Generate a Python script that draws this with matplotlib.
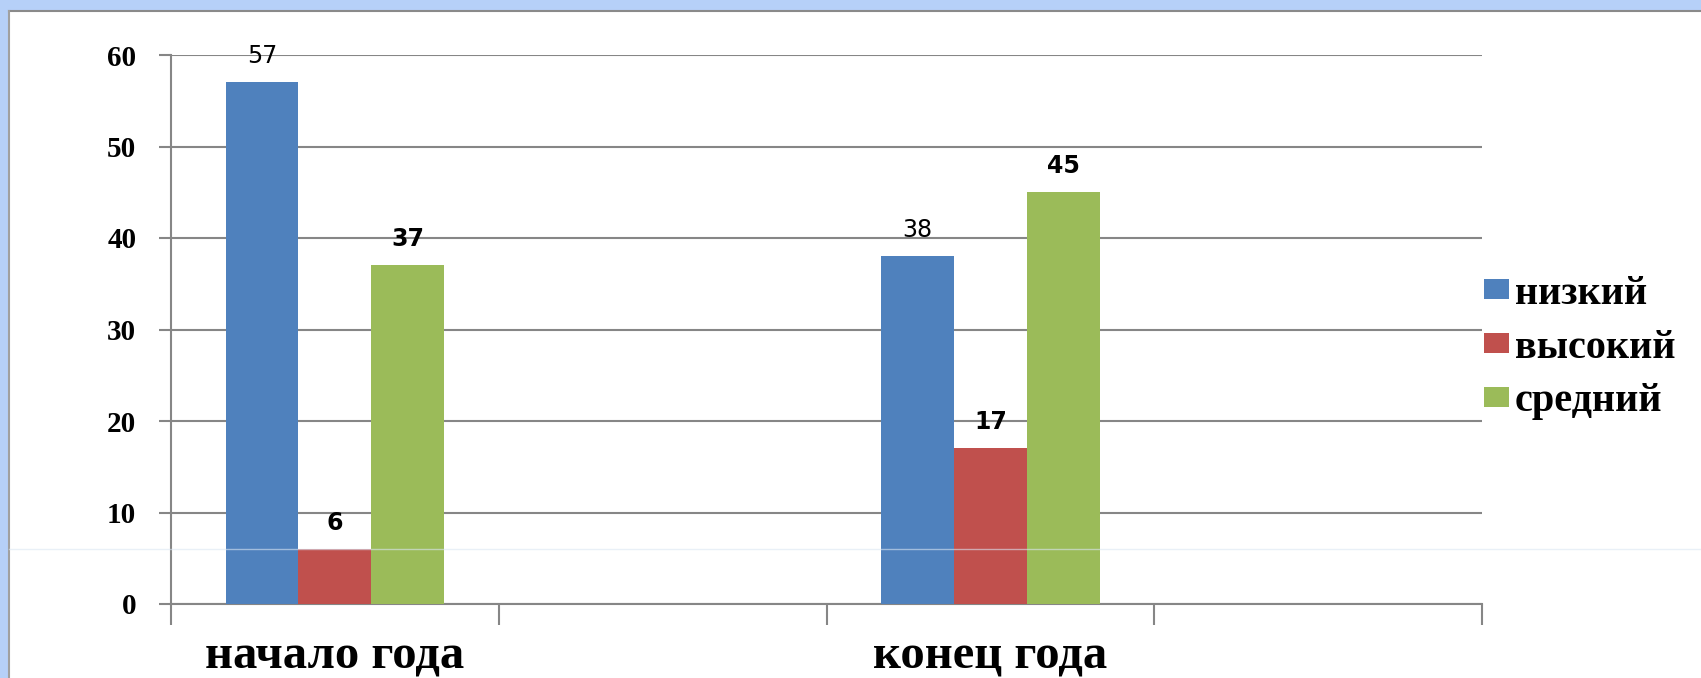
import numpy as np
import matplotlib

matplotlib.use("Agg")

import matplotlib.pyplot as plt
from matplotlib.patches import Patch, Rectangle
from matplotlib.lines import Line2D

# Данные диаграммы
categories = ["начало года", "", "конец года", ""]
series_names = ["низкий", "высокий", "средний"]
low_values = [57, np.nan, 38, np.nan]
high_values = [6, np.nan, 17, np.nan]
mid_values = [37, np.nan, 45, np.nan]
label_bold = [[False, False, False, False],
              [True, True, True, True],
              [True, True, True, True]]
y_ticks = [0, 10, 20, 30, 40, 50, 60]

colors = ["#4f81bd", "#c0504d", "#9bbb59"]
grid_color = "#868686"
serif = "Liberation Serif"

fig = plt.figure(figsize=(17.01, 6.78), dpi=100)
fig.patch.set_facecolor("#b6d0f8")

# белая подложка слайда
W, H = 1701, 678
fig.add_artist(Rectangle((9 / W, 0), 1, 1 - 11 / H, transform=fig.transFigure,
                         facecolor="white", edgecolor="none", zorder=0))
fig.add_artist(Line2D([9 / W, 1], [1 - 11 / H, 1 - 11 / H], transform=fig.transFigure,
                      color="#8a8a8a", lw=1.5, zorder=1))
fig.add_artist(Line2D([9 / W, 9 / W], [0, 1 - 11 / H], transform=fig.transFigure,
                      color="#a0a0a0", lw=1.5, zorder=1))

ax = fig.add_axes([171 / W, 1 - 604 / H, (1482 - 171) / W, (604 - 55) / H])
ax.set_facecolor("none")
ax.set_zorder(2)

x = np.arange(len(categories))
width = 0.222
all_values = [low_values, high_values, mid_values]
for i, (vals, name, col) in enumerate(zip(all_values, series_names, colors)):
    pos = x + (i - 1) * width
    ax.bar(pos, vals, width=width, color=col, label=name, zorder=3)
    for j, (px, v) in enumerate(zip(pos, vals)):
        if np.isnan(v):
            continue
        ax.annotate(f"{int(v)}", (px, v), xytext=(0, 19), textcoords="offset points",
                    ha="center", va="center", fontsize=17, family="DejaVu Sans",
                    fontweight="bold" if label_bold[i][j] else "normal", zorder=4)

ax.set_xlim(-0.5, len(categories) - 0.5)
ax.set_ylim(0, 60)
ax.set_yticks(y_ticks)
ax.set_yticklabels([str(t) for t in y_ticks], family=serif, fontweight="bold", fontsize=21)
ax.yaxis.grid(True, color=grid_color, lw=1.5, zorder=1)
ax.tick_params(axis="y", length=9, width=1.5, color=grid_color, pad=16)

# границы категорий - основные деления, подписи - вспомогательные
ax.set_xticks(np.arange(len(categories) + 1) - 0.5)
ax.set_xticklabels([])
ax.set_xticks(x, minor=True)
ax.set_xticklabels(categories, minor=True, family=serif, fontweight="bold", fontsize=35)
ax.tick_params(axis="x", which="major", length=15, width=1.5, color=grid_color)
ax.tick_params(axis="x", which="minor", length=0, pad=22)

for side in ("top", "right"):
    ax.spines[side].set_visible(False)
for side in ("left", "bottom"):
    ax.spines[side].set_color(grid_color)
    ax.spines[side].set_linewidth(1.5)

handles = [Patch(facecolor=c, edgecolor="none") for c in colors]
leg = fig.legend(handles, series_names, loc="center left", bbox_to_anchor=(1484 / W, 1 - 348 / H),
                 frameon=False, borderpad=0, borderaxespad=0, handlelength=0.62, handleheight=0.38,
                 handletextpad=0.15, labelspacing=0.42,
                 prop={"family": serif, "weight": "bold", "size": 29})
leg.set_zorder(3)

# бледная линия фона слайда
fig.add_artist(Line2D([9 / W, 1], [1 - 549 / H, 1 - 549 / H], transform=fig.transFigure,
                      color="#dbe6f3", lw=1.0, alpha=0.6, zorder=10))

fig.savefig("out.png", dpi=100, facecolor=fig.get_facecolor())
